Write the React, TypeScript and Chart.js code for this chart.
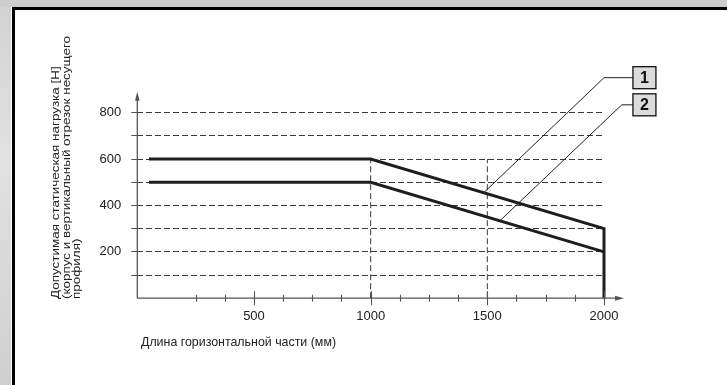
import React, { useEffect, useRef } from 'react';
import { Chart, registerables } from 'chart.js';

Chart.register(...registerables);

const FONT = '"Liberation Sans", Arial, Helvetica, sans-serif';
const INK = '#1e1e1e';
const GRID = '#3a3a3a';
const AXIS = '#555555';

// Load curves: x = horizontal length (mm), y = permissible static load (N)
const curve1X = [50, 1000, 2000, 2000];
const curve1Y = [600, 600, 300, 0];
const curve2X = [50, 1000, 2000];
const curve2Y = [500, 500, 200];

// Dashed reference verticals (from 0 up to 600 N)
const refLineX = [1000, 1500];
const refLineTop = 600;

// Axes
const xMin = 0;
const xMax = 2000;
const xLabelStep = 500;
const yMin = 0;
const yMax = 800;
const yGridStep = 100;
const yLabelStep = 200;
const xMinorTicks = [250, 375, 625, 750, 875, 1125, 1250, 1375, 1625, 1750, 1875];
const xMajorTicks = [500, 1000, 1500, 2000];
const yAxisArrowTop = 890;
const xAxisArrowEnd = 2086;

// Callouts (leader lines in data units)
const calloutLabels = ['1', '2'];
const calloutAnchorX = [1485, 1555];
const calloutAnchorY = [455, 335];
const calloutElbowX = [2000, 2076];
const calloutElbowY = [951, 834];
const calloutBoxX = [2124, 2124];

// Titles
const yTitleLines = [
  'Допустимая статическая нагрузка [Н]',
  '(корпус и вертикальный отрезок несущего',
  'профиля)',
];
const xTitle = 'Длина горизонтальной части (мм)';

const toPts = (xs: number[], ys: number[]) => xs.map((x, i) => ({ x, y: ys[i] }));

const overlayPlugin = {
  id: 'overlay',
  afterDatasetsDraw(chart: any) {
    const ctx = chart.ctx as CanvasRenderingContext2D;
    const xs = chart.scales.x;
    const ys = chart.scales.y;
    const px = (v: number) => xs.getPixelForValue(v);
    const py = (v: number) => ys.getPixelForValue(v);
    ctx.save();

    // axes with arrows
    const x0 = px(0);
    const y0 = py(0);
    const yTop = py(yAxisArrowTop);
    const xEnd = px(xAxisArrowEnd);
    ctx.strokeStyle = AXIS;
    ctx.fillStyle = AXIS;
    ctx.lineWidth = 1.3;
    ctx.beginPath();
    ctx.moveTo(x0, y0);
    ctx.lineTo(x0, yTop + 5);
    ctx.stroke();
    ctx.beginPath();
    ctx.moveTo(x0, yTop);
    ctx.lineTo(x0 - 2.3, yTop + 9);
    ctx.lineTo(x0 + 2.3, yTop + 9);
    ctx.closePath();
    ctx.fill();

    ctx.beginPath();
    ctx.moveTo(x0, y0);
    ctx.lineTo(xEnd - 5, y0);
    ctx.stroke();
    ctx.beginPath();
    ctx.moveTo(xEnd, y0);
    ctx.lineTo(xEnd - 9, y0 - 2.5);
    ctx.lineTo(xEnd - 9, y0 + 2.5);
    ctx.closePath();
    ctx.fill();

    // x tick marks crossing the axis
    ctx.lineWidth = 1.1;
    xMinorTicks.forEach((v) => {
      const x = Math.round(px(v)) + 0.5;
      ctx.beginPath();
      ctx.moveTo(x, y0 - 3.5);
      ctx.lineTo(x, y0 + 3.5);
      ctx.stroke();
    });
    xMajorTicks.forEach((v) => {
      const x = Math.round(px(v)) + 0.5;
      ctx.beginPath();
      ctx.moveTo(x, y0 - 7);
      ctx.lineTo(x, y0 + 7);
      ctx.stroke();
    });

    // callout leader lines and boxes
    calloutLabels.forEach((lab, i) => {
      const bx = px(calloutBoxX[i]);
      const cy = py(calloutElbowY[i]);
      ctx.strokeStyle = '#222';
      ctx.lineWidth = 1;
      ctx.beginPath();
      ctx.moveTo(px(calloutAnchorX[i]), py(calloutAnchorY[i]));
      ctx.lineTo(px(calloutElbowX[i]), cy);
      ctx.lineTo(bx, cy);
      ctx.stroke();

      const w = 23;
      const h = 22;
      ctx.fillStyle = '#dcdcdc';
      ctx.fillRect(bx, cy - h / 2, w, h);
      ctx.strokeStyle = '#111';
      ctx.lineWidth = 1.3;
      ctx.strokeRect(bx, cy - h / 2, w, h);
      ctx.fillStyle = '#111';
      ctx.font = `bold 16px ${FONT}`;
      ctx.textAlign = 'center';
      ctx.textBaseline = 'middle';
      ctx.fillText(lab, bx + w / 2, cy + 1);
    });

    // titles
    ctx.fillStyle = '#222';
    ctx.font = `12px ${FONT}`;
    ctx.textAlign = 'left';
    ctx.textBaseline = 'middle';
    const lineX = [56, 66.8, 77.5];
    yTitleLines.forEach((t, i) => {
      ctx.save();
      ctx.translate(lineX[i], 299);
      ctx.rotate(-Math.PI / 2);
      ctx.scale(1.12, 0.9);
      ctx.fillText(t, 0, 0);
      ctx.restore();
    });
    ctx.font = `12.4px ${FONT}`;
    ctx.textBaseline = 'alphabetic';
    ctx.fillText(xTitle, 141, 346);

    ctx.restore();
  },
};

export default function App() {
  const ref = useRef<HTMLCanvasElement | null>(null);

  useEffect(() => {
    if (!ref.current) return;
    const curveStyle = {
      borderColor: INK,
      borderWidth: 3,
      pointRadius: 0,
      fill: false,
      tension: 0,
      clip: false as any,
      borderJoinStyle: 'miter' as const,
    };
    const datasets: any[] = [
      { label: '1', data: toPts(curve1X, curve1Y), ...curveStyle },
      { label: '2', data: toPts(curve2X, curve2Y), ...curveStyle },
    ];
    refLineX.forEach((x) => {
      datasets.push({
        label: 'ref ' + x,
        data: [
          { x, y: 0 },
          { x, y: refLineTop },
        ],
        borderColor: GRID,
        borderWidth: 1,
        borderDash: [6, 3],
        pointRadius: 0,
        fill: false,
        clip: false,
      });
    });

    const chart = new Chart(ref.current, {
      type: 'line',
      data: { datasets },
      options: {
        responsive: false,
        animation: false,
        devicePixelRatio: 1,
        layout: { padding: { left: 97.3, right: 123, top: 112.7, bottom: 46.8 } },
        plugins: { legend: { display: false }, tooltip: { enabled: false } },
        scales: {
          x: {
            type: 'linear',
            position: 'bottom',
            min: xMin,
            max: xMax,
            afterFit: (s: any) => {
              s.height = 40;
            },
            grid: { display: false, drawTicks: false },
            border: { display: false },
            ticks: {
              stepSize: xLabelStep,
              autoSkip: false,
              maxRotation: 0,
              padding: 10,
              color: '#222',
              font: { family: FONT, size: 13 },
              callback: (v: any) => (Number(v) === 0 ? '' : String(v)),
            },
          },
          y: {
            type: 'linear',
            min: yMin,
            max: yMax,
            afterFit: (s: any) => {
              s.width = 40;
            },
            grid: {
              color: (c: any) => (c.tick && c.tick.value === 0 ? 'rgba(0,0,0,0)' : GRID),
              lineWidth: 1,
              drawTicks: true,
              tickLength: 6,
              tickColor: (c: any) => (c.tick && c.tick.value === 0 ? 'rgba(0,0,0,0)' : AXIS),
            },
            border: { display: false, dash: [6, 3] },
            ticks: {
              stepSize: yGridStep,
              autoSkip: false,
              padding: 10,
              color: '#222',
              font: { family: FONT, size: 13 },
              callback: (v: any) => {
                const n = Number(v);
                return n !== 0 && n % yLabelStep === 0 ? String(n) : '';
              },
            },
          },
        },
      },
      plugins: [overlayPlugin],
    });
    return () => chart.destroy();
  }, []);

  return (
    <div style={{ position: 'fixed', left: 0, top: 0, width: 727, height: 385, background: '#cdcdcd', overflow: 'hidden' }}>
      <div style={{ position: 'absolute', left: 0, top: 7, width: 11, bottom: 0, background: 'linear-gradient(#d2d2d2, #e2e2e2 40%, #cfcfcf)' }} />
      <div style={{ position: 'absolute', left: 11, top: 7, width: 1, bottom: 0, background: '#fff' }} />
      <div
        style={{
          position: 'absolute',
          left: 12,
          top: 7,
          right: 0,
          bottom: 0,
          background: '#fff',
          borderTop: '3px solid #000',
          borderLeft: '3px solid #000',
          boxSizing: 'border-box',
        }}
      />
      <canvas ref={ref} width={727} height={385} style={{ position: 'absolute', left: 0, top: 0, width: 727, height: 385 }} />
    </div>
  );
}
